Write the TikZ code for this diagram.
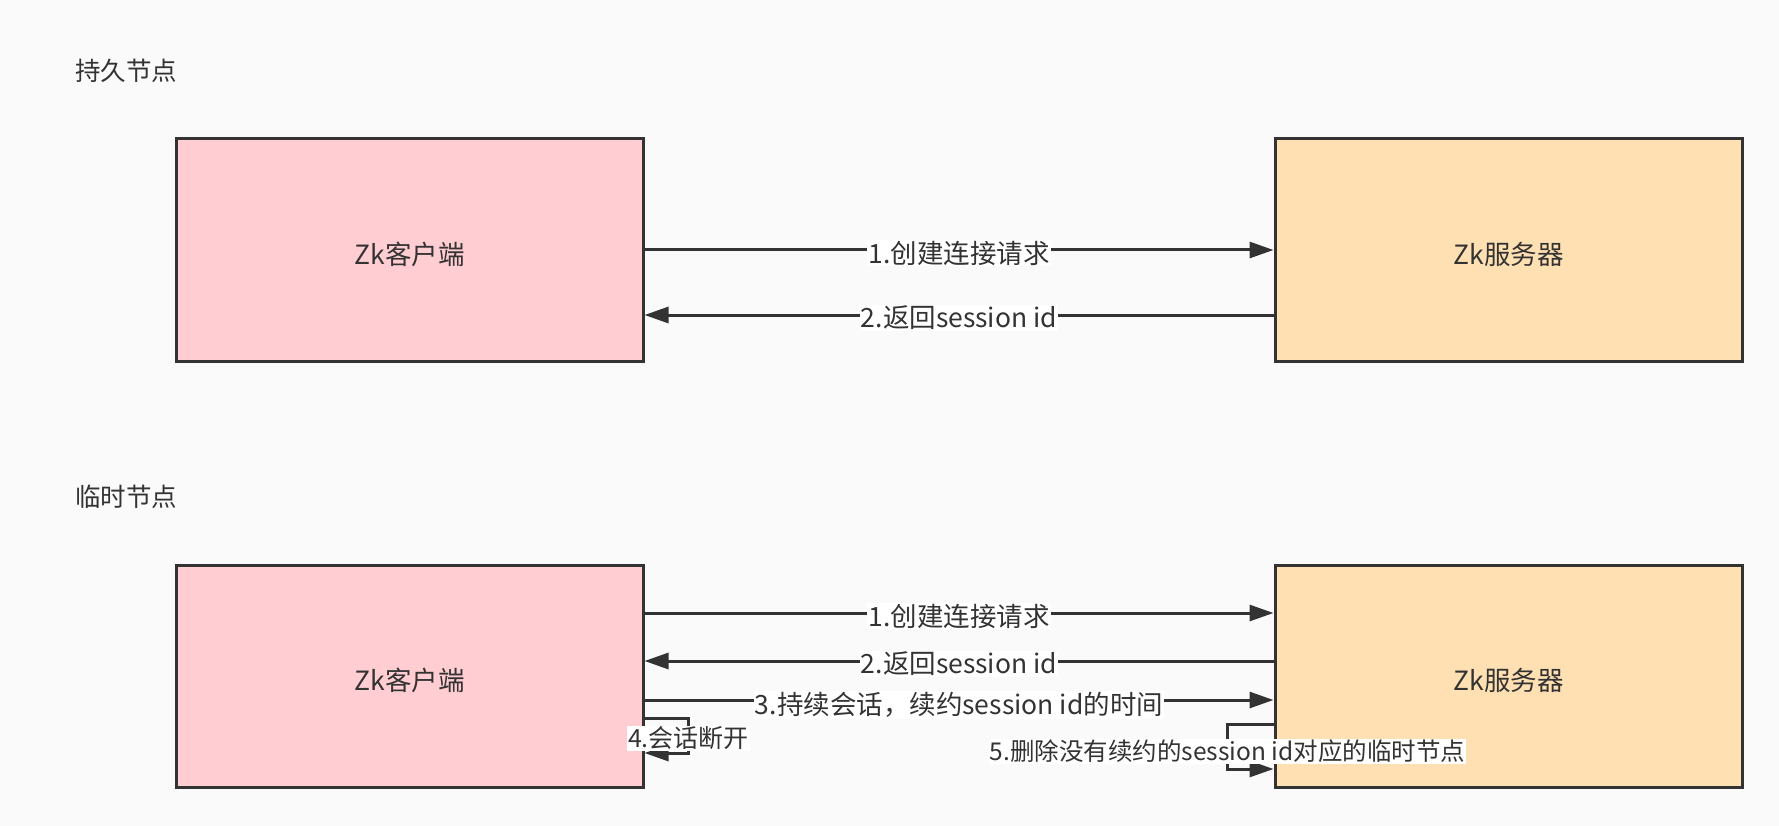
\documentclass[tikz,border=0pt]{standalone}
\usepackage{fontspec}
\setmainfont{Noto Sans CJK SC}
\usetikzlibrary{arrows.meta,positioning}
\definecolor{bgcol}{HTML}{FAFAFA}
\definecolor{clientcol}{HTML}{FFCDD2}
\definecolor{servercol}{HTML}{FFE0B2}
\definecolor{inkcol}{HTML}{333333}

\newcommand{\boxtext}[1]{\raisebox{-4pt}[\height][\depth]{#1}}

\tikzset{
	box/.style={draw=inkcol, line width=3pt, minimum width=467pt, minimum height=222pt, inner sep=0pt, text=inkcol, font=\fontsize{26.5}{30}\selectfont},
	client/.style={box, fill=clientcol},
	server/.style={box, fill=servercol},
	msg/.style={draw=inkcol, line width=3pt, -{Triangle[length=24pt,width=16pt]}},
	lbl/.style={fill=white, inner sep=1pt, yshift=-3pt, text=inkcol, font=\fontsize{26.5}{30}\selectfont},
	heading/.style={anchor=west, inner sep=0pt, text=inkcol, font=\fontsize{25.5}{28}\selectfont}
}

\begin{document}
\begin{tikzpicture}[x=1pt, y=-1pt, node distance=629pt]
			\fill[bgcol] (0,0) rectangle (1779,826);
			\useasboundingbox (0,0) rectangle (1779,826);

			% persistent node
			\node[heading] (t1) at (75,71) {持久节点};
			\node[client] (c1) at (409.5,250) {\boxtext{Zk客户端}};
			\node[server] (s1)[right=of c1] {\boxtext{Zk服务器}};

			\draw[msg] (c1.east) -- node[lbl]{1.创建连接请求} (s1.west);
			\draw[msg] ([yshift=-65pt]s1.west) -- node[lbl]{2.返回session id} ([yshift=-65pt]c1.east);

			% ephemeral node
			\node[heading] (t2) at (75,497) {临时节点};
			\node[client] (c2) at (409.5,676) {\boxtext{Zk客户端}};
			\node[server] (s2)[right=of c2] {\boxtext{Zk服务器}};

			\draw[msg] ([yshift=63pt]c2.east) -- node[lbl]{1.创建连接请求} ([yshift=63pt]s2.west);
			\draw[msg] ([yshift=15pt]s2.west) -- node[lbl]{2.返回session id} ([yshift=15pt]c2.east);
			\draw[msg] ([yshift=-24pt]c2.east) -- node[lbl, yshift=-2pt]{3.持续会话，续约session id的时间} ([yshift=-24pt]s2.west);
			\draw[msg] ([yshift=-42pt]c2.east) -- ++(44,0) |- node[lbl, pos=0.25, font=\fontsize{25}{30}\selectfont]{4.会话断开} ([yshift=-77pt]c2.east);
			\draw[msg] ([yshift=-48pt]s2.west) -- ++(-46,0) |- node[lbl, pos=0.25, yshift=-2pt, font=\fontsize{24.5}{30}\selectfont]{5.删除没有续约的session id对应的临时节点} ([yshift=-93pt]s2.west);
\end{tikzpicture}
\end{document}
